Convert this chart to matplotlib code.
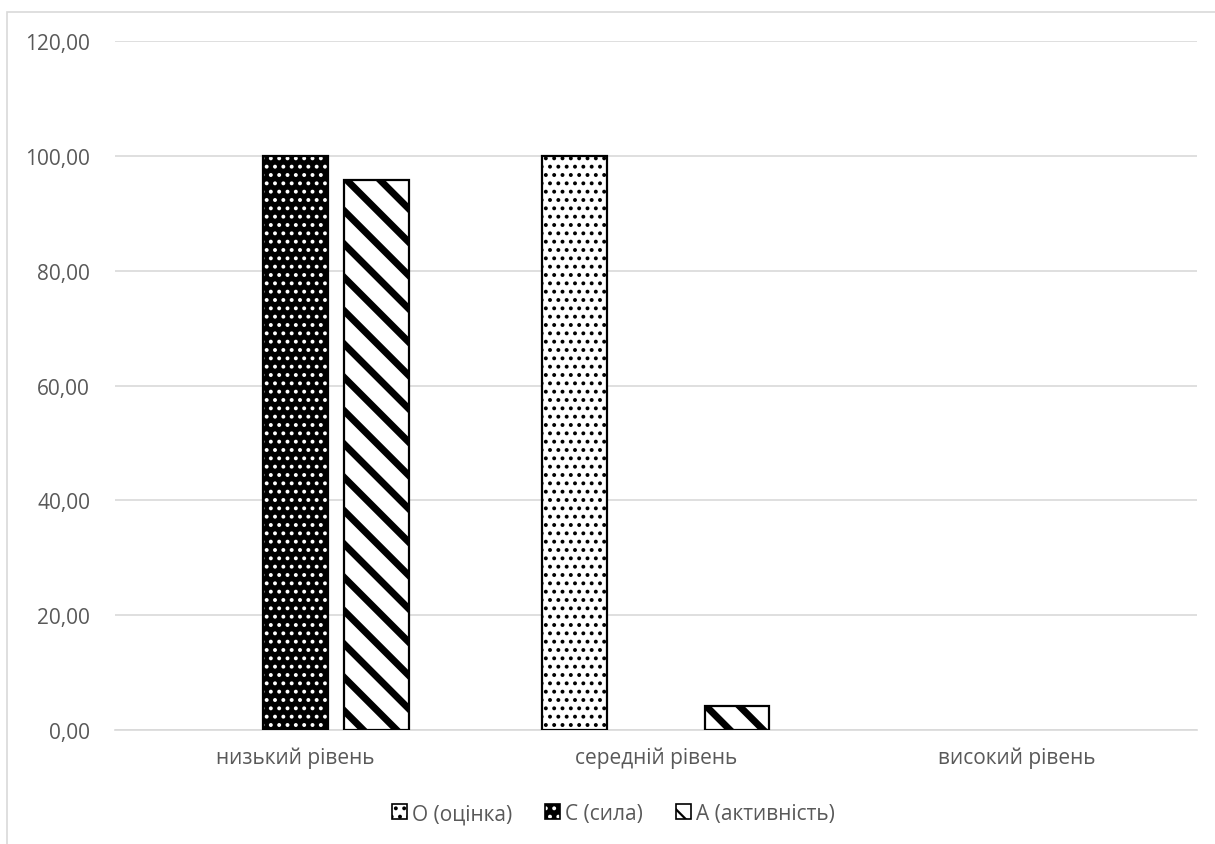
import matplotlib.pyplot as plt
import matplotlib.patches as mpatches
import numpy as np

categories = ['низький рівень', 'середній рівень', 'високий рівень']
series_names = ['О (оцінка)', 'С (сила)', 'А (активність)']
o_values = [0.0, 100.0, 0.0]
c_values = [100.0, 0.0, 0.0]
a_values = [95.83, 4.17, 0.0]
y_ticks = [0, 20, 40, 60, 80, 100, 120]

plt.rcParams['font.family'] = ['Open Sans', 'DejaVu Sans']
plt.rcParams['hatch.linewidth'] = 1.6

text_gray = '#595959'
grid_gray = '#d9d9d9'


def edge_widths(vals, lw=1.6):
    # no outline for empty bars (Excel draws nothing there)
    return [lw if v > 0 else 0 for v in vals]


fig = plt.figure(figsize=(12.15, 8.45), dpi=100)
ax = fig.add_axes([0.0947, 0.1349, 0.8903, 0.8151])

x = np.arange(len(categories))
width = 0.18
step = 0.225

# О: white with black dots
ax.bar(x - step, o_values, width, color='white', edgecolor='black',
       hatch='..', linewidth=edge_widths(o_values), zorder=3)

# С: black with white dots, black border on top
ax.bar(x, c_values, width, color='black', edgecolor='white',
       hatch='..', linewidth=0, zorder=3)
ax.bar(x, c_values, width, fill=False, edgecolor='black',
       linewidth=edge_widths(c_values), zorder=4)

# А: wide diagonal stripes
with plt.rc_context({'hatch.linewidth': 5.0}):
    ax.bar(x + step, a_values, width, color='white', edgecolor='black',
           hatch='\\', linewidth=edge_widths(a_values), zorder=3)

ax.set_xlim(-0.5, 2.5)
ax.set_ylim(0, 120)
ax.set_yticks(y_ticks)
ax.set_yticklabels([f'{v:.2f}'.replace('.', ',') for v in y_ticks])
ax.set_xticks(x)
ax.set_xticklabels(categories)
ax.tick_params(length=0, labelsize=15, colors=text_gray)
ax.tick_params(axis='y', pad=18)
ax.tick_params(axis='x', pad=12)
ax.yaxis.grid(True, color=grid_gray, linewidth=1.2, zorder=0)
ax.set_axisbelow(True)
for side in ['top', 'right', 'left']:
    ax.spines[side].set_visible(False)
ax.spines['bottom'].set_color(grid_gray)
ax.spines['bottom'].set_linewidth(1.2)

# chart border
fig.patches.append(mpatches.Rectangle((7 / 1215, -0.1), 1.2, 1 - 13 / 845 + 0.1,
                                      transform=fig.transFigure, fill=False,
                                      edgecolor=grid_gray, linewidth=1.2))

# legend
h_o = mpatches.Patch(facecolor='white', edgecolor='black', hatch='..', linewidth=1.2)
h_c1 = mpatches.Patch(facecolor='black', edgecolor='white', hatch='..', linewidth=0)
h_c2 = mpatches.Patch(fill=False, edgecolor='black', linewidth=1.2)
with plt.rc_context({'hatch.linewidth': 4.0}):
    h_a = mpatches.Patch(facecolor='white', edgecolor='black', hatch='\\', linewidth=1.2)
leg = fig.legend([h_o, (h_c1, h_c2), h_a], series_names, loc='center',
                 bbox_to_anchor=(0.505, 0.036), ncol=3, frameon=False,
                 fontsize=15, handlelength=0.7, handleheight=0.7,
                 handletextpad=0.25, columnspacing=1.6)
for t in leg.get_texts():
    t.set_color(text_gray)

fig.savefig('out.png', dpi=100)
